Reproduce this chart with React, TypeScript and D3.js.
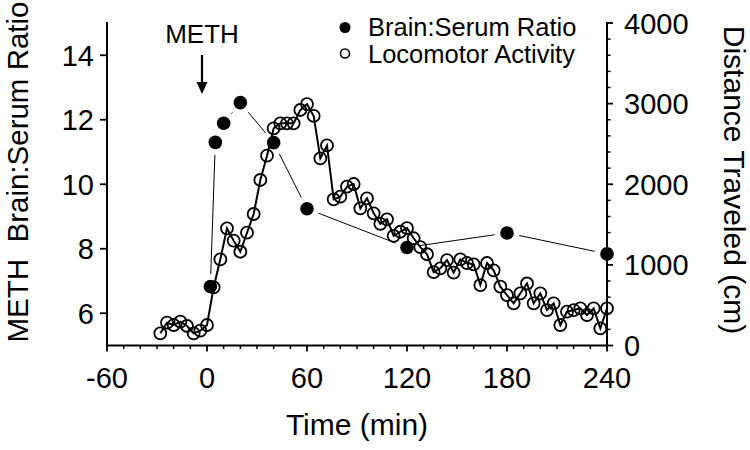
import React from "react";
import * as d3 from "d3";

const locoTimes = [-28,-24,-20,-16,-12,-8,-4,0,4,8,12,16,20,24,28,32,36,40,44,48,52,56,60,64,68,72,76,80,84,88,92,96,100,104,108,112,116,120,124,128,132,136,140,144,148,152,156,160,164,168,172,176,180,184,188,192,196,200,204,208,212,216,220,224,228,232,236,240];
const locoValues = [151,283,254,295,242,151,184,254,722,1069,1453,1300,1163,1399,1631,2053,2354,2694,2756,2756,2756,2921,2995,2847,2322,2481,1813,1846,1970,2003,1702,1826,1640,1509,1565,1360,1411,1457,1330,1219,1132,909,957,1060,905,1069,1023,1005,750,1023,933,729,626,523,647,769,523,647,440,523,254,419,440,461,378,461,213,461];

const ratioTimes = [2,5,10,20,40,60,120,180,240];
const ratioValues = [6.83,11.30,11.89,12.53,11.29,9.24,8.04,8.49,7.84];

const xTicks = [-60,0,60,120,180,240];
const xMinorTicks = [-50,-40,-30,-20,-10,10,20,30,40,50,70,80,90,100,110,130,140,150,160,170,190,200,210,220,230];
const leftTicks = [6,8,10,12,14];
const rightTicks = [0,1000,2000,3000,4000];
const rightMinorTicks = [200,400,600,800,1200,1400,1600,1800,2200,2400,2600,2800,3200,3400,3600,3800];

const FONT = "'Liberation Sans', Arial, Helvetica, sans-serif";

export default function App() {
  const W = 750, H = 450;
  const x = d3.scaleLinear().domain([-60, 240]).range([107, 607]);
  const yL = d3.scaleLinear().domain([5, 15]).range([345.5, 23]);
  const yR = d3.scaleLinear().domain([0, 4000]).range([345.5, 23]);

  const locoPts: [number, number][] = locoTimes.map((t, i) => [x(t), yR(locoValues[i])]);
  const ratioPts: [number, number][] = ratioTimes.map((t, i) => [x(t), yL(ratioValues[i])]);
  const line = d3.line();

  const gap = 12.5;
  const segs: { x1: number; y1: number; x2: number; y2: number }[] = [];
  for (let i = 0; i < ratioPts.length - 1; i++) {
    const [ax, ay] = ratioPts[i];
    const [bx, by] = ratioPts[i + 1];
    const dx = bx - ax, dy = by - ay;
    const L = Math.hypot(dx, dy);
    if (L > 2 * gap + 1) {
      const ux = dx / L, uy = dy / L;
      segs.push({ x1: ax + ux * gap, y1: ay + uy * gap, x2: bx - ux * gap, y2: by - uy * gap });
    }
  }

  const y0 = 345.5;
  return (
    <svg width={W} height={H} style={{ position: "absolute", left: 0, top: 0, background: "#fff" }} fontFamily={FONT}>
      <rect x={0} y={0} width={W} height={H} fill="#fff" />
      {/* axes */}
      <line x1={107} y1={y0} x2={607} y2={y0} stroke="#000" strokeWidth={2} />
      <line x1={107} y1={y0 + 1} x2={107} y2={22} stroke="#000" strokeWidth={2} />
      <line x1={607} y1={y0 + 1} x2={607} y2={22} stroke="#000" strokeWidth={2} />
      {xTicks.map((t) => (
        <g key={"xt" + t}>
          <line x1={x(t)} x2={x(t)} y1={y0} y2={y0 + 6} stroke="#000" strokeWidth={1.8} />
          <text x={x(t)} y={388} fontSize={29} textAnchor="middle" fill="#000">{t}</text>
        </g>
      ))}
      {xMinorTicks.map((t) => (
        <line key={"xm" + t} x1={x(t)} x2={x(t)} y1={y0} y2={y0 + 3.5} stroke="#000" strokeWidth={1.5} />
      ))}
      {leftTicks.map((v) => (
        <g key={"lt" + v}>
          <line x1={100} x2={107} y1={yL(v)} y2={yL(v)} stroke="#000" strokeWidth={1.8} />
          <text x={94} y={yL(v) + 10.5} fontSize={29} textAnchor="end" fill="#000">{v}</text>
        </g>
      ))}
      {rightTicks.map((v) => (
        <g key={"rt" + v}>
          <line x1={607} x2={613} y1={yR(v)} y2={yR(v)} stroke="#000" strokeWidth={1.8} />
          <text x={624} y={yR(v) + 10.5} fontSize={29} textAnchor="start" fill="#000">{v}</text>
        </g>
      ))}
      {rightMinorTicks.map((v) => (
        <line key={"rm" + v} x1={607} x2={610.5} y1={yR(v)} y2={yR(v)} stroke="#000" strokeWidth={1.5} />
      ))}
      {/* axis titles */}
      <text transform="translate(28,172) rotate(-90)" fontSize={29.5} textAnchor="middle" fill="#000" style={{ whiteSpace: "pre" }}>
        {"METH  Brain:Serum Ratio"}
      </text>
      <text transform="translate(724,180) rotate(90)" fontSize={30} textAnchor="middle" fill="#000">
        Distance Traveled (cm)
      </text>
      <text x={357} y={435} fontSize={30} textAnchor="middle" fill="#000">Time (min)</text>

      {/* METH annotation */}
      <text x={202} y={43} fontSize={26} textAnchor="middle" fill="#000">METH</text>
      <line x1={x(-3)} x2={x(-3)} y1={55} y2={84} stroke="#000" strokeWidth={2.2} />
      <path d={`M${x(-3) - 5.5},82 L${x(-3) + 5.5},82 L${x(-3)},94 Z`} fill="#000" />

      {/* locomotor activity */}
      <path d={line(locoPts) || ""} fill="none" stroke="#000" strokeWidth={2} />
      {locoPts.map(([cx, cy], i) => (
        <circle key={"lo" + i} cx={cx} cy={cy} r={6} fill="none" stroke="#000" strokeWidth={1.8} />
      ))}

      {/* brain:serum ratio */}
      {segs.map((s, i) => (
        <line key={"sg" + i} x1={s.x1} y1={s.y1} x2={s.x2} y2={s.y2} stroke="#000" strokeWidth={1} />
      ))}
      {ratioPts.map(([cx, cy], i) => (
        <circle key={"ra" + i} cx={cx} cy={cy} r={6.8} fill="#000" />
      ))}

      {/* legend */}
      <circle cx={345} cy={27.5} r={5.5} fill="#000" />
      <text x={368} y={36} fontSize={25.5} fill="#000">Brain:Serum Ratio</text>
      <circle cx={345} cy={53.5} r={4.5} fill="none" stroke="#000" strokeWidth={1.6} />
      <text x={368} y={62.5} fontSize={25.5} fill="#000">Locomotor Activity</text>
    </svg>
  );
}
